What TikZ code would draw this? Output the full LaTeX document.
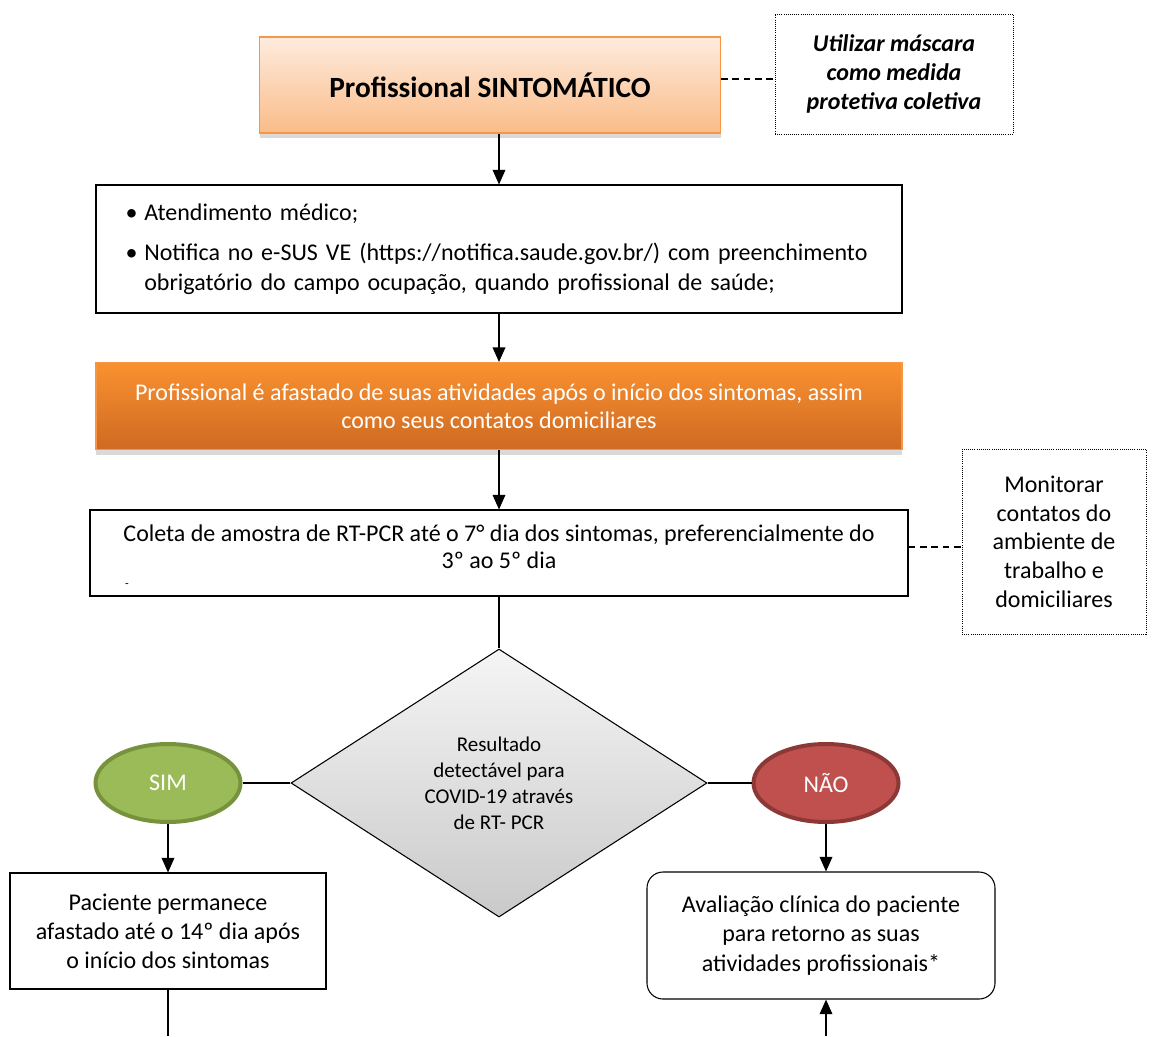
\documentclass[tikz,border=0pt]{standalone}
\usepackage{fontspec}
\setmainfont{Carlito}
\usepackage{tikz}
\usetikzlibrary{positioning,arrows.meta,shapes,shadows}

\definecolor{laranja}{RGB}{247,150,70}
\definecolor{laranjaclaro}{RGB}{253,236,222}
\definecolor{pessego}{RGB}{250,188,136}
\definecolor{laranjaforte}{RGB}{250,145,48}
\definecolor{laranjaescuro}{RGB}{206,106,34}
\definecolor{verde}{RGB}{155,187,89}
\definecolor{verdeescuro}{RGB}{118,146,60}
\definecolor{vermelho}{RGB}{192,80,77}
\definecolor{vermelhoescuro}{RGB}{140,56,54}

\begin{document}
\begin{tikzpicture}[x=0.75pt,y=-0.75pt,>={Triangle[length=11pt,width=9.5pt]}]
	\tikzset{
		caixa/.style={draw,line width=0.8pt,align=center,inner sep=0pt,font=\fontsize{18}{21.75}\selectfont},
		nota/.style={caixa,line width=0.6pt,densely dotted},
		sombra/.style={drop shadow={opacity=0.3,shadow xshift=0pt,shadow yshift=-4pt}},
		bola/.style={caixa,ellipse,line width=3pt,text=white,minimum width=108.75pt,minimum height=58.5pt},
		tracejado/.style={line width=0.8pt,dash pattern=on 5pt off 3.5pt}
	}
	\useasboundingbox (0,0) rectangle (1152,1036);

	\node[caixa, draw=laranja, top color=laranjaclaro, bottom color=pessego, sombra,
		minimum width=345.75pt, minimum height=72pt, font=\fontsize{22}{26}\selectfont\bfseries] (sint) at (490,85) {Profissional SINTOMÁTICO};
	\node[nota, minimum width=178.5pt, minimum height=90pt,
		font=\fontsize{18}{21.75}\selectfont\bfseries\itshape] (masc) at (894,74) {Utilizar máscara\\como medida\\protetiva coletiva};
	\node[caixa, minimum width=604.5pt, minimum height=96pt, text width=560pt, align=left,
		font=\fontsize{18}{22.5}\selectfont] (aten) at (499,249)
		{\makebox[14pt][l]{\textbullet}Atendimento médico;\\[7.5pt]
		\makebox[14pt][l]{\textbullet}Notifica no e-SUS VE (https://notifica.saude.gov.br/) com preenchimento\\
		\hspace*{14pt}obrigatório do campo ocupação, quando profissional de saúde;};
	\node[caixa, draw=laranja, top color=laranjaforte, bottom color=laranjaescuro, text=white, sombra,
		minimum width=604.5pt, minimum height=65.25pt, font=\fontsize{18}{21}\selectfont] (afast) at (499,406)
		{Profissional é afastado de suas atividades após o início dos sintomas, assim\\como seus contatos domiciliares};
	\node[caixa, minimum width=613.5pt, minimum height=64.5pt, font=\fontsize{18}{20.25}\selectfont] (coleta) at (499,553)
		{Coleta de amostra de RT-PCR até o 7° dia dos sintomas, preferencialmente do\\3º ao 5º dia\\[-10pt]\mbox{}};
	\node[inner sep=0pt, font=\fontsize{9}{9}\selectfont] (traco) at (127,586) {-};
	\node[nota, minimum width=138pt, minimum height=138.75pt, font=\fontsize{18}{21.5}\selectfont] (monit) at (1054,541.5)
		{Monitorar\\contatos do\\ambiente de\\trabalho e\\domiciliares};
	\node[caixa, diamond, aspect=1.55, top color=gray!8, bottom color=gray!42,
		minimum width=312pt, minimum height=201pt, font=\fontsize{15.75}{19.5}\selectfont] (res) at (499,783)
		{Resultado\\detectável para\\COVID-19 através\\de RT- PCR};
	\node[bola, fill=verde, draw=verdeescuro] (sim) at (168,783) {SIM};
	\node[bola, fill=vermelho, draw=vermelhoescuro] (nao) at (826,783) {NÃO};
	\node[caixa, minimum width=237pt, minimum height=87pt] (perm) at (168,931)
		{Paciente permanece\\afastado até o 14º dia após\\o início dos sintomas};
	\node[caixa, rounded corners=12pt, minimum width=261pt, minimum height=95.25pt,
		font=\fontsize{18}{22}\selectfont] (aval) at (821,935.5)
		{Avaliação clínica do paciente\\para retorno as suas\\atividades profissionais*};
	\coordinate (baixoA) at (168,1036);
	\coordinate (baixoB) at (826,1036);

	\path[tracejado]
		([yshift=4.5pt]sint.east) edge ([yshift=4.5pt]sint.east -| masc.west)
		([yshift=4.5pt]coleta.east) edge ([yshift=4.5pt]coleta.east -| monit.west);
	\path[->, line width=1.2pt]
		(aten.north |- sint.south) edge (aten.north)
		(aten) edge (afast)
		(afast) edge (coleta)
		(sim) edge (perm)
		(nao.south) edge (nao.south |- aval.north)
		(baixoB) edge (baixoB |- aval.south);
	\path[line width=1.2pt]
		(coleta) edge (res)
		(sim) edge (res)
		(res) edge (nao)
		(perm) edge (baixoA);
\end{tikzpicture}
\end{document}
